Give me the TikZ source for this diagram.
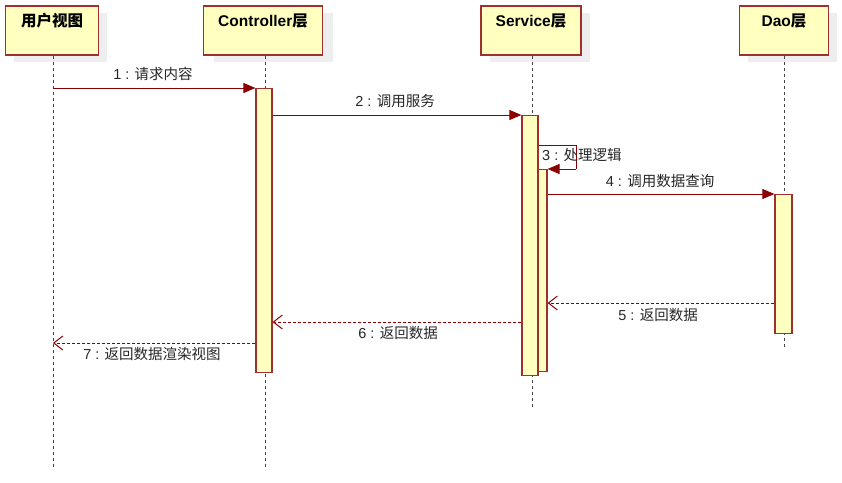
\documentclass[tikz,border=0pt]{standalone}
\usepackage{fontspec}
\setmainfont{Liberation Sans}
\newfontfamily\cjk{Noto Sans CJK SC}
\usetikzlibrary{arrows.meta}
\definecolor{boxfill}{HTML}{FFFFC0}
\definecolor{boxline}{HTML}{A03030}
\definecolor{msgline}{HTML}{8B0000}
\definecolor{shadowc}{HTML}{EEEEEE}
\definecolor{lifec}{HTML}{444444}
\tikzset{
  head/.style={draw=boxline, fill=boxfill, line width=1.5pt, inner xsep=2pt, inner ysep=5pt,
     text height=16pt, text depth=23pt, font=\fontsize{15.5}{17}\selectfont\bfseries, anchor=north},
  actbar/.style={draw=boxline, fill=boxfill, line width=1.2pt, inner sep=0pt, anchor=north},
  lifeline/.style={draw=lifec, line width=0.9pt, dash pattern=on 3pt off 3pt},
  msg/.style={draw=msgline, line width=1pt, -{Triangle[length=12pt,width=10pt]}},
  ret/.style={draw=msgline, line width=1pt, dash pattern=on 3pt off 2pt,
     -{Straight Barb[length=9pt,width=14pt,line width=1pt]}},
  lbl/.style={font=\fontsize{14.5}{16}\selectfont, inner sep=1pt, text=black!85}
}
\begin{document}
\begin{tikzpicture}[x=1pt,y=-1pt]
\useasboundingbox (0,0) rectangle (842,482);
% shadows of headers
\fill[shadowc] (14,13) rectangle (107,62);
\fill[shadowc] (214,13) rectangle (333,62);
\fill[shadowc] (490,13) rectangle (590,62);
\fill[shadowc] (748,13) rectangle (837,62);
% headers
\node[head, minimum width=93pt] (U) at (52,5) {{\cjk 用户视图}};
\node[head, minimum width=119pt] (C) at (263,5) {Controller{\cjk 层}};
\node[head, minimum width=100pt] (S) at (531,5) {Service{\cjk 层}};
\node[head, minimum width=89pt] (D) at (784,5) {Dao{\cjk 层}};
% lifeline ends
\coordinate (Ue) at (53,467);
\coordinate (Ce) at (265,467);
\coordinate (Se) at (532,408);
\coordinate (De) at (784,349);
\draw[lifeline] (U.south -| Ue) -- (Ue);
\draw[lifeline] (C.south -| Ce) -- (Ce);
\draw[lifeline] (S.south -| Se) -- (Se);
\draw[lifeline] (D.south -| De) -- (De);
% activation bars
\node[actbar, minimum width=16pt, minimum height=284pt] (AC) at (264,88) {};
\node[actbar, minimum width=16pt, minimum height=260pt] (AS) at (530,115) {};
\node[actbar, minimum width=9pt, minimum height=202pt] (AS2) at (542.5,169) {};
\node[actbar, minimum width=17pt, minimum height=139pt] (AD) at (783.5,194) {};
% message endpoints
\coordinate (m1s) at (53,88);
\coordinate (m3a) at (576,145);
\coordinate (m3b) at (576,169);
\coordinate (m7e) at (53,343);
% messages
\draw[msg] (m1s) -- (AC.north west);
\node[lbl] (l1) at (153,74) {1 : {\cjk 请求内容}};
\draw[msg] (AC.east |- 0,115) -- (AS.north west);
\node[lbl] (l2) at (395,101) {2 : {\cjk 调用服务}};
\draw[msgline, line width=1pt] (AS.east |- 0,145) -- (m3a) -- (m3b);
\draw[msg] (m3b) -- (AS2.north east);
\node[lbl, anchor=west] (l3) at (541,155) {3 : {\cjk 处理逻辑}};
\draw[msg] (AS2.east |- 0,194) -- (AD.north west);
\node[lbl] (l4) at (660,181) {4 : {\cjk 调用数据查询}};
\draw[ret] (AD.west |- 0,303) -- (AS2.east |- 0,303);
\node[lbl] (l5) at (658,315) {5 : {\cjk 返回数据}};
\draw[ret] (AS.west |- 0,322) -- (AC.east |- 0,322);
\node[lbl] (l6) at (398,333) {6 : {\cjk 返回数据}};
\draw[ret] (AC.west |- 0,343) -- (m7e);
\node[lbl] (l7) at (152,354) {7 : {\cjk 返回数据渲染视图}};
\end{tikzpicture}
\end{document}
